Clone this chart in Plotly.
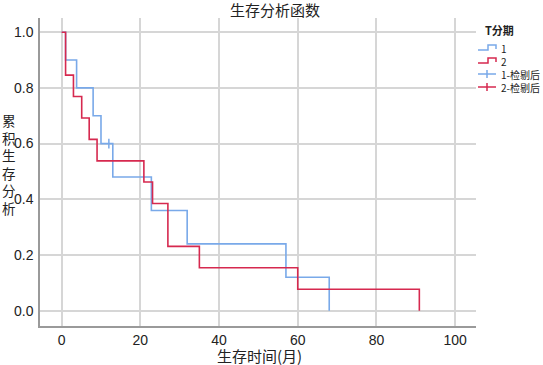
import plotly.graph_objects as go

# ---- data ----
t_group1 = [0, 1.0, 3.8, 8.0, 10.0, 13.0, 22.8, 31.9, 57.0, 68.0]
s_group1 = [1.0, 0.9, 0.8, 0.7, 0.6, 0.48, 0.36, 0.24, 0.12, 0.0]
t_group2 = [0, 1.0, 3.0, 5.1, 7.0, 9.0, 20.9, 23.1, 27.0, 35.0, 60.0, 90.9]
s_group2 = [1.0, 0.846, 0.769, 0.692, 0.615, 0.538, 0.462, 0.385, 0.231, 0.154, 0.077, 0.0]
cens1_t = [12.0]
cens1_s = [0.6]
cens2_t = []
cens2_s = []

x_ticks = [0, 20, 40, 60, 80, 100]
y_ticks = [0.0, 0.2, 0.4, 0.6, 0.8, 1.0]
legend_labels = ["1", "2", "1-检剔后", "2-检剔后"]

BLUE = "#79a9e9"
RED = "#d6294f"
W, H = 543, 365
L, R, T, B = 40, 67, 18, 39
PW, PH = W - L - R, H - T - B
CJK = "Noto Sans CJK SC"
NUM = "Liberation Sans"


def px(xp):
    return (xp - L) / PW


def py(yp):
    return (H - B - yp) / PH


fig = go.Figure()
fig.add_trace(go.Scatter(x=t_group1, y=s_group1, mode="lines", line_shape="hv",
                         line=dict(color=BLUE, width=1.6), name="1", showlegend=False))
fig.add_trace(go.Scatter(x=t_group2, y=s_group2, mode="lines", line_shape="hv",
                         line=dict(color=RED, width=1.6), name="2", showlegend=False))
fig.add_trace(go.Scatter(x=cens1_t, y=cens1_s, mode="markers",
                         marker=dict(symbol="line-ns", size=7, line=dict(color=BLUE, width=1.5)),
                         name="1-检剔后", showlegend=False))
fig.add_trace(go.Scatter(x=cens2_t, y=cens2_s, mode="markers",
                         marker=dict(symbol="line-ns", size=7, line=dict(color=RED, width=1.5)),
                         name="2-检剔后", showlegend=False))

shapes = []
annotations = []

# title
annotations.append(dict(text="生存分析函数", x=px(275), y=py(10), xref="paper", yref="paper",
                        showarrow=False, font=dict(family=CJK, size=15, color="#222"),
                        xanchor="center", yanchor="middle"))
# x title
annotations.append(dict(text="生存时间(月)", x=px(259), y=py(355), xref="paper", yref="paper",
                        showarrow=False, font=dict(family=CJK, size=15, color="#222"),
                        xanchor="center", yanchor="middle"))
# y title, stacked characters (one per line)
annotations.append(dict(text="<br>".join("累积生存分析"), x=px(9), y=py(163.5),
                        xref="paper", yref="paper", showarrow=False,
                        font=dict(family=CJK, size=13.5, color="#222"),
                        xanchor="center", yanchor="middle", align="center"))

# legend (manual)
annotations.append(dict(text="<b>T分期</b>", x=px(483), y=py(30), xref="paper", yref="paper",
                        showarrow=False, font=dict(family=CJK, size=11, color="#222"),
                        xanchor="left", yanchor="middle"))
LEG_FS = 10
LEG_STEP = 1.3 * LEG_FS
leg_y0 = 48
leg_cols = [BLUE, RED, BLUE, RED]
leg_kinds = ["step", "step", "plus", "plus"]
for i, (col, kind) in enumerate(zip(leg_cols, leg_kinds)):
    yc = leg_y0 + i * LEG_STEP
    if kind == "step":
        path = (f"M {px(478)} {py(yc + 2)} L {px(488)} {py(yc + 2)} L {px(488)} {py(yc - 3)} "
                f"L {px(496)} {py(yc - 3)} L {px(496)} {py(yc + 1)}")
        shapes.append(dict(type="path", path=path, xref="paper", yref="paper",
                           line=dict(color=col, width=1.5)))
    else:
        shapes.append(dict(type="line", x0=px(478), x1=px(496), y0=py(yc), y1=py(yc),
                           xref="paper", yref="paper", line=dict(color=col, width=1.5)))
        shapes.append(dict(type="line", x0=px(487), x1=px(487), y0=py(yc - 4), y1=py(yc + 4),
                           xref="paper", yref="paper", line=dict(color=col, width=1.5)))
annotations.append(dict(text="<br>".join(legend_labels), x=px(499),
                        y=py(leg_y0 + 1.5 * LEG_STEP + 0.5), xref="paper", yref="paper",
                        showarrow=False, font=dict(family=CJK, size=LEG_FS, color="#222"),
                        xanchor="left", yanchor="middle", align="left"))

fig.update_layout(
    width=W, height=H,
    margin=dict(l=L, r=R, t=T, b=B, pad=0),
    plot_bgcolor="white", paper_bgcolor="white",
    showlegend=False,
    shapes=shapes, annotations=annotations,
)
fig.update_xaxes(range=[-5.5, 105.3], tickvals=x_ticks, ticktext=[str(v) for v in x_ticks],
                 showgrid=True, gridcolor="#d6d6d6", gridwidth=1.5, zeroline=False,
                 showline=True, linecolor="#9a9a9a", linewidth=1.5, ticks="",
                 tickfont=dict(family=NUM, size=14, color="#222"))
fig.update_yaxes(range=[-0.055, 1.051], tickvals=y_ticks, ticktext=[f"{v:.1f}" for v in y_ticks],
                 showgrid=True, gridcolor="#d6d6d6", gridwidth=1.5, zeroline=False,
                 showline=True, linecolor="#9a9a9a", linewidth=1.5, ticks="",
                 ticklabelstandoff=2,
                 tickfont=dict(family=NUM, size=14, color="#222"))

fig.write_html("out.html", config={"displayModeBar": False},
               post_script="document.body.style.margin='0';")
